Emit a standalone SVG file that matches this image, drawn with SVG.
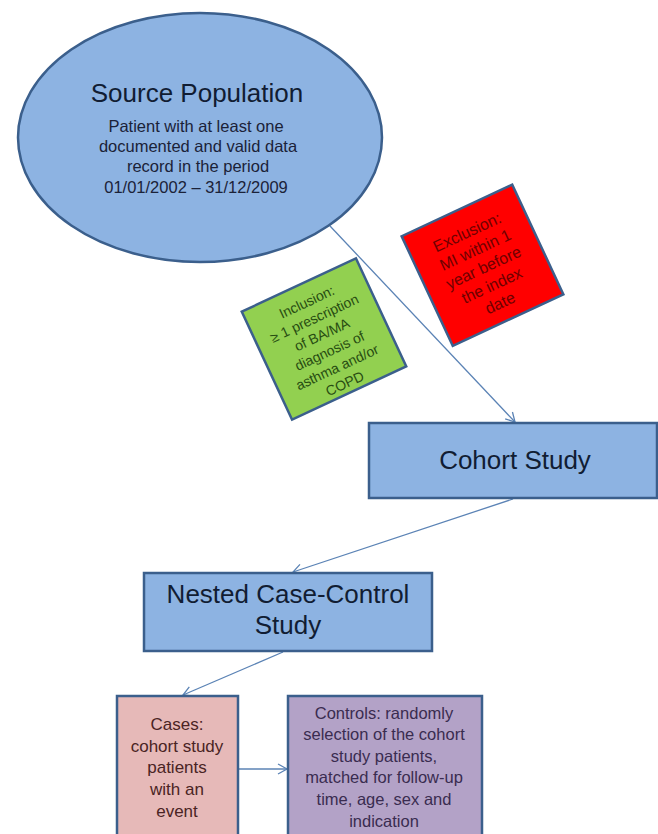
<svg xmlns="http://www.w3.org/2000/svg" width="658" height="834" viewBox="0 0 658 834">
<defs>
<style>
text { font-family: "Liberation Sans", Arial, sans-serif; text-anchor: middle; }
.blue { fill: #8db3e2; stroke: #3b5f8c; stroke-width: 2.5; }
.head { font-size: 26px; fill: #111d33; }
.sub { font-size: 16.5px; fill: #1b2238; }
.conn { fill: none; stroke: #5b83b5; stroke-width: 1.3; marker-end: url(#arr); }
.green { fill: #92d050; stroke: #3b5f8c; stroke-width: 2.5; }
.gtxt { font-size: 14px; fill: #284d12; }
.red { fill: #ff0000; stroke: #3b5f8c; stroke-width: 2.5; }
.rtxt { font-size: 16px; fill: #6e0000; }
.pink { fill: #e6b9b8; stroke: #3b5f8c; stroke-width: 2.5; }
.ptxt { font-size: 17px; fill: #4a2424; }
.purple { fill: #b3a2c7; stroke: #3b5f8c; stroke-width: 2.5; }
.vtxt { font-size: 16.5px; fill: #3a2c50; }
</style>
<marker id="arr" markerWidth="12" markerHeight="12" refX="10" refY="6" orient="auto" markerUnits="userSpaceOnUse">
<path d="M1,1 L10,6 L1,11" fill="none" stroke="#5b83b5" stroke-width="1.3"/>
</marker>
</defs>
<rect width="658" height="834" fill="#ffffff"/>

<g id="connectors">
<line class="conn" x1="330" y1="226" x2="515" y2="422"/>
<line class="conn" x1="513" y1="499" x2="293" y2="572"/>
<line class="conn" x1="283" y1="652" x2="183" y2="695"/>
<line class="conn" x1="239" y1="769" x2="287" y2="769"/>
</g>

<g id="source-population">
<ellipse class="blue" cx="200" cy="137.5" rx="182" ry="124.5"/>
<text class="head" x="197" y="102">Source Population</text>
<text class="sub" x="196" y="132">Patient with at least one</text>
<text class="sub" x="198" y="152">documented and valid data</text>
<text class="sub" x="198" y="172">record in the period</text>
<text class="sub" x="196" y="193">01/01/2002  – 31/12/2009</text>
</g>

<g id="inclusion" transform="translate(324,339) rotate(-25)">
<rect class="green" x="-63" y="-59.5" width="126" height="119"/>
<text class="gtxt" x="0" y="-36">Inclusion:</text>
<text class="gtxt" x="0" y="-18">≥ 1 prescription</text>
<text class="gtxt" x="0" y="0">of BA/MA</text>
<text class="gtxt" x="0" y="18">diagnosis of</text>
<text class="gtxt" x="0" y="36">asthma and/or</text>
<text class="gtxt" x="0" y="54">COPD</text>
</g>

<g id="exclusion" transform="translate(482.5,265.3) rotate(-25)">
<rect class="red" x="-61" y="-60.5" width="122" height="121"/>
<text class="rtxt" x="0" y="-31">Exclusion:</text>
<text class="rtxt" x="0" y="-11.5">MI within 1</text>
<text class="rtxt" x="0" y="8">year before</text>
<text class="rtxt" x="0" y="27.5">the index</text>
<text class="rtxt" x="0" y="47">date</text>
</g>

<g id="cohort-study">
<rect class="blue" x="369" y="423" width="288" height="75"/>
<text class="head" x="515" y="469">Cohort Study</text>
</g>

<g id="nested-case-control">
<rect class="blue" x="144" y="573" width="288" height="78"/>
<text class="head" x="288" y="603">Nested Case-Control</text>
<text class="head" x="288" y="634">Study</text>
</g>

<g id="cases">
<rect class="pink" x="117" y="696" width="121" height="145"/>
<text class="ptxt" x="177" y="730">Cases:</text>
<text class="ptxt" x="177" y="752">cohort study</text>
<text class="ptxt" x="177" y="773">patients</text>
<text class="ptxt" x="177" y="795">with an</text>
<text class="ptxt" x="177" y="817">event</text>
</g>

<g id="controls">
<rect class="purple" x="288" y="696" width="194" height="145"/>
<text class="vtxt" x="384" y="719">Controls: randomly</text>
<text class="vtxt" x="384" y="740">selection of the cohort</text>
<text class="vtxt" x="384" y="762">study patients,</text>
<text class="vtxt" x="384" y="783">matched for follow-up</text>
<text class="vtxt" x="384" y="805">time, age, sex and</text>
<text class="vtxt" x="384" y="827">indication</text>
</g>
</svg>
